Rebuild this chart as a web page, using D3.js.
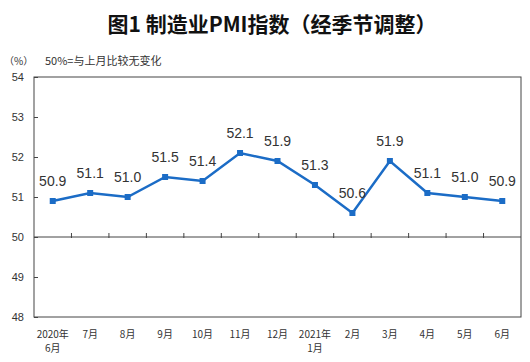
<!DOCTYPE html>
<html><head><meta charset="utf-8">
<script src="https://cdn.jsdelivr.net/npm/d3@7"></script>
<style>body{margin:0;background:#fff}svg{display:block}</style>
</head><body><svg id="c" width="530" height="362"></svg>
<script>
const months = ["2020年|6月","7月","8月","9月","10月","11月","12月","2021年|1月","2月","3月","4月","5月","6月"];
const pmi = [50.9,51.1,51.0,51.5,51.4,52.1,51.9,51.3,50.6,51.9,51.1,51.0,50.9];
const yTicks = [48,49,50,51,52,53,54];
const title = "图1 制造业PMI指数（经季节调整）";
const unitLabel = "（%）";
const note = "50%=与上月比较无变化";

const svg = d3.select("#c");
const L=34,R=521,T=77,B=317;
const x = d3.scaleBand().domain(months).range([L,R]);
const y = d3.scaleLinear().domain([48,54]).range([B,T]);
const cx = d => x(d)+x.bandwidth()/2;
const cjk = "'Noto Sans CJK SC','Liberation Sans',sans-serif";

svg.append("text").attr("x",272).attr("y",32).attr("text-anchor","middle")
  .style("font-family",cjk).style("font-weight","bold").style("font-size","21px").attr("fill","#111").text(title);
svg.append("text").attr("x",4).attr("y",65).style("font-family",cjk).style("font-size","10px").attr("fill","#333").text(unitLabel);
svg.append("text").attr("x",45).attr("y",65).style("font-family",cjk).style("font-size","11px").attr("fill","#333").text(note);

// frame
svg.append("rect").attr("x",L).attr("y",T).attr("width",R-L).attr("height",B-T)
  .attr("fill","none").attr("stroke","#444").attr("stroke-width",1);

// y axis
const ya = svg.append("g").attr("transform",`translate(${L},0)`)
  .call(d3.axisLeft(y).tickValues(yTicks).tickSize(-4).tickPadding(10).tickFormat(d3.format("d")));
ya.select(".domain").remove();
ya.selectAll("line").attr("stroke","#444");
ya.selectAll("text").style("font-family","'Liberation Sans',Arial,sans-serif").style("font-size","11px").attr("fill","#333");

// 50 baseline with category boundary ticks
svg.append("line").attr("x1",L).attr("x2",R).attr("y1",y(50)).attr("y2",y(50)).attr("stroke","#444");
svg.append("g").selectAll("line").data(months.slice(1)).join("line")
  .attr("x1",d=>x(d)).attr("x2",d=>x(d)).attr("y1",y(50)-4).attr("y2",y(50)+1).attr("stroke","#444");

// x labels
const xl = svg.append("g").selectAll("text").data(months).join("text")
  .attr("x",d=>cx(d)).attr("y",338).attr("text-anchor","middle")
  .style("font-family",cjk).style("font-size","10px").attr("fill","#333");
xl.each(function(d){
  const parts=d.split("|"); const t=d3.select(this);
  parts.forEach((p,i)=>t.append("tspan").attr("x",cx(d)).attr("dy",i?14:0).text(p));
});

// line
const data = months.map((m,i)=>({m,v:pmi[i]}));
svg.append("path").datum(data).attr("fill","none").attr("stroke","#1b6cc6").attr("stroke-width",2.5)
  .attr("d",d3.line().x(d=>cx(d.m)).y(d=>y(d.v)));
svg.append("g").selectAll("rect").data(data).join("rect")
  .attr("x",d=>cx(d.m)-3).attr("y",d=>y(d.v)-3).attr("width",6).attr("height",6).attr("fill","#1b6cc6");
svg.append("g").selectAll("text").data(data).join("text")
  .attr("x",d=>cx(d.m)).attr("y",d=>y(d.v)-15).attr("text-anchor","middle")
  .style("font-family","'Liberation Sans',Arial,sans-serif").style("font-size","14px").attr("fill","#333")
  .text(d=>d.v.toFixed(1));
</script></body></html>
